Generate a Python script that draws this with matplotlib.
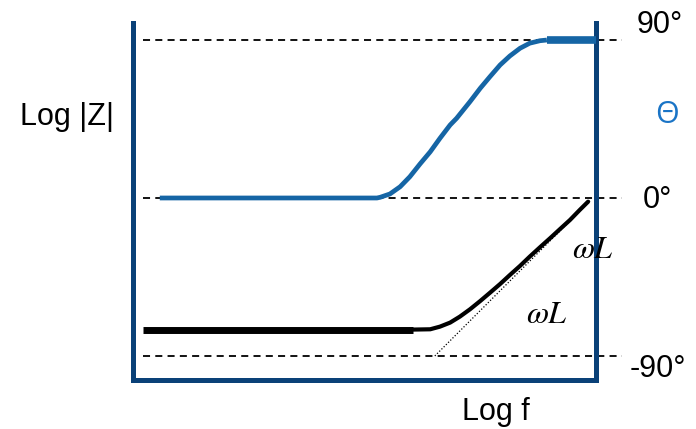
"""Schematic Bode plot of an R-L impedance: magnitude and phase vs log f."""

import matplotlib.pyplot as plt

# phase curve (log f in arbitrary decades, theta in degrees)
logf_phase = [0.59, 5.28, 5.35, 5.56, 5.78, 5.99, 6.21, 6.43, 6.64, 6.86, 7.00,
              7.29, 7.51, 7.72, 7.94, 8.15, 8.37, 8.58, 8.80, 8.95]
theta = [0, 0, 0.4, 2.3, 6.4, 12.1, 19.4, 26.3, 34.0, 41.6, 45.4,
         54.9, 62.5, 69.1, 75.8, 80.9, 85.3, 88.2, 89.6, 90]
logf_phase_top = [8.95, 10.0]
theta_top = [90, 90]

# magnitude curve (same vertical scale, schematic)
logf_mag_flat = [0.23, 6.06]
mag_flat = [-75.0, -75.0]
logf_mag = [6.0, 6.43, 6.64, 6.86, 7.07, 7.29, 7.51, 7.72, 7.94, 8.15,
            8.37, 8.58, 8.80, 9.02, 9.23, 9.45, 9.66, 9.84]
mag = [-75.0, -74.8, -73.3, -71.0, -67.6, -63.4, -58.7, -54.0, -49.0, -43.9,
       -38.7, -33.4, -28.1, -22.9, -17.8, -12.5, -6.8, -2.1]

# asymptote omega*L
logf_asym = [6.53, 9.88]
mag_asym = [-90, -1.7]

# reference levels
ref_levels = [90, 0, -90]
ref_labels = ["90°", "0°", "-90°"]

FRAME = "#0a4178"
PHASE = "#1565a5"

plt.rcParams["font.family"] = ["Liberation Sans", "DejaVu Sans"]
plt.rcParams["mathtext.fontset"] = "stix"

fig = plt.figure(figsize=(6.96, 4.29), dpi=100)
W, H = 696, 429
ax = fig.add_axes([132.5 / W, 1 - 380 / H, 463 / W, 357 / H])
ax.set_xlim(0, 10)
ax.set_ylim(-103.7, 99.7)

for side in ["left", "right", "bottom"]:
    ax.spines[side].set_color(FRAME)
    ax.spines[side].set_linewidth(3.6)
ax.spines["top"].set_visible(False)
ax.set_xticks([])
ax.set_yticks([])

# dashed reference lines (run past the right frame)
for lvl in ref_levels:
    ax.plot([0.23, 10.57], [lvl, lvl], color="black", lw=1.3,
            dashes=(3.9, 2.9), clip_on=False, zorder=1)

# phase
ax.plot(logf_phase, theta, color=PHASE, lw=3.4, solid_capstyle="butt",
        solid_joinstyle="round", zorder=3)
ax.plot(logf_phase_top, theta_top, color=PHASE, lw=5.5, solid_capstyle="butt",
        clip_on=False, zorder=3)

# magnitude
ax.plot(logf_mag_flat, mag_flat, color="black", lw=5, solid_capstyle="butt", zorder=3)
ax.plot(logf_mag, mag, color="black", lw=3, solid_capstyle="round",
        solid_joinstyle="round", zorder=3)
ax.plot(logf_asym, mag_asym, color="black", lw=0.9, linestyle=(0, (1, 1.5)), zorder=2)


def px(x, y):
    return x / W, 1 - y / H


fs = 22
fig.text(*px(20, 125), "Log |Z|", fontsize=fs, va="baseline", ha="left")
fig.text(*px(462, 420), "Log f", fontsize=fs, va="baseline", ha="left")
fig.text(*px(655, 123), "Θ", fontsize=fs, va="baseline", ha="left",
         color="#1a74c6", family=["Open Sans", "DejaVu Sans"])
for (x, y), lab in zip([(637, 33), (643, 208), (630, 377)], ref_labels):
    fig.text(*px(x, y), lab, fontsize=fs, va="baseline", ha="left")

fig.text(*px(572, 258), r"$\omega L$", fontsize=23, va="baseline", ha="left")
fig.text(*px(526, 323), r"$\omega L$", fontsize=23, va="baseline", ha="left")

fig.savefig("out.png", dpi=100)
